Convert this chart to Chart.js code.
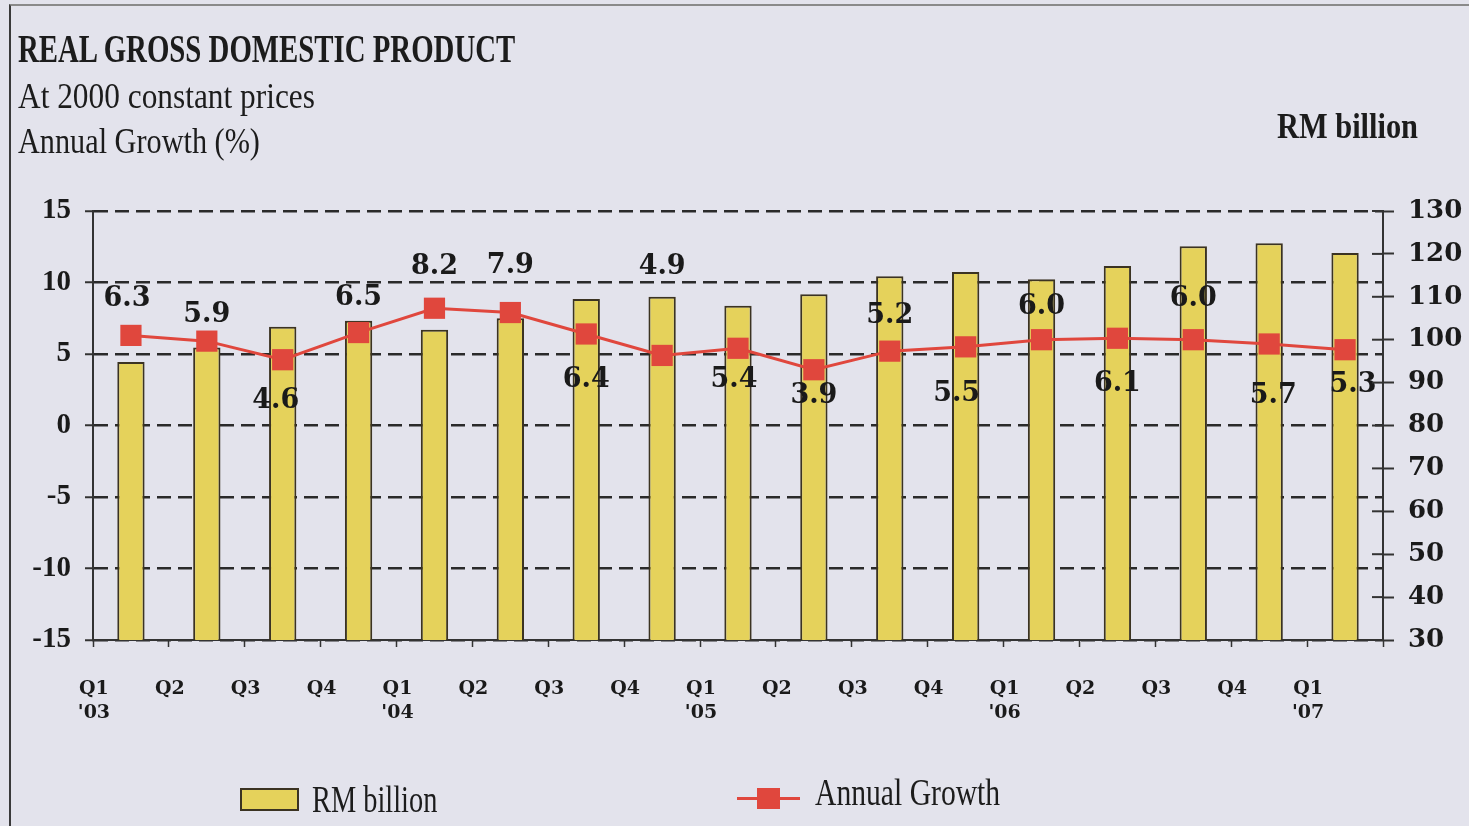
<!DOCTYPE html>
<html>
<head>
<meta charset="utf-8">
<script src="https://cdn.jsdelivr.net/npm/chart.js@4"></script>
<style>
  html, body { margin: 0; padding: 0; }
  body { width: 1469px; height: 826px; background: #e3e3ec; position: relative; overflow: hidden; }
  #frame { position: absolute; left: 9px; top: 4px; width: 1480px; height: 900px; border-left: 2px solid #3a3a3a; border-top: 2px solid #8a8a8a; }
  canvas { position: absolute; left: 0; top: 0; }
  .txt { position: absolute; white-space: nowrap; line-height: 1; color: #1c1c1c; transform-origin: 0 0; font-family: "Liberation Serif", serif; }
  .b { font-weight: bold; }
  .key { position: absolute; }
</style>
</head>
<body>
<div id="frame"></div>
<canvas id="chart" width="1469" height="826"></canvas>

<div class="txt b" id="t1" style="left:18px; top:28px; font-size:41px;" data-w="497">REAL GROSS DOMESTIC PRODUCT</div>
<div class="txt" id="t2" style="left:18px; top:78px; font-size:36px;" data-w="297">At 2000 constant prices</div>
<div class="txt" id="t3" style="left:18px; top:123px; font-size:36px;" data-w="242">Annual Growth (%)</div>
<div class="txt b" id="t4" style="left:1277px; top:108px; font-size:36px;" data-w="141">RM billion</div>

<div class="key" style="left:240px; top:788px; width:55px; height:19px; background:#e5d25b; border:2px solid #3b3322;"></div>
<div class="txt" id="l1" style="left:312px; top:781px; font-size:37px;" data-w="125">RM billion</div>
<div class="key" style="left:737px; top:797px; width:63px; height:3px; background:#e0473d;"></div>
<div class="key" style="left:757px; top:788px; width:23px; height:21px; background:#e0473d;"></div>
<div class="txt" id="l2" style="left:815px; top:774px; font-size:37px;" data-w="185">Annual Growth</div>

<script>
const quarters = ["Q1", "Q2", "Q3", "Q4", "Q1", "Q2", "Q3", "Q4", "Q1", "Q2", "Q3", "Q4", "Q1", "Q2", "Q3", "Q4", "Q1"];
const years = ["'03", "", "", "", "'04", "", "", "", "'05", "", "", "", "'06", "", "", "", "'07"];
const gdpBillion = [94.8, 98.2, 103.0, 104.4, 102.3, 105.0, 109.5, 110.0, 107.9, 110.6, 114.8, 115.8, 114.1, 117.2, 121.8, 122.5, 120.2];
const annualGrowth = [6.3, 5.9, 4.6, 6.5, 8.2, 7.9, 6.4, 4.9, 5.4, 3.9, 5.2, 5.5, 6.0, 6.1, 6.0, 5.7, 5.3];

// where each value label sits relative to its marker (px)
const labelDy = [-36, -26, 41, -35, -41, -47, 46, -88, 32, 26, -35, 47, -33, 46, -41, 52, 35];
const labelDx = [-4, 0, -7, 0, 0, 0, 0, 0, -4, 0, 0, -9, 0, 0, 0, 4, 8];

const labels = quarters.map((q, i) => years[i] ? [q, years[i]] : q);

// fit the condensed-looking heading texts to their widths
document.querySelectorAll(".txt").forEach(el => {
  const w = +el.dataset.w;
  el.style.transform = `scaleX(${w / el.offsetWidth})`;
});

const valueLabels = {
  id: "valueLabels",
  afterDatasetsDraw(chart) {
    const ctx = chart.ctx;
    const meta = chart.getDatasetMeta(1);
    ctx.save();
    ctx.font = "bold 27px 'DejaVu Serif'";
    ctx.fillStyle = "#1a1a1a";
    ctx.textAlign = "center";
    ctx.textBaseline = "middle";
    meta.data.forEach((pt, i) => {
      ctx.fillText(annualGrowth[i].toFixed(1), pt.x + labelDx[i], pt.y + labelDy[i]);
    });
    ctx.restore();
  }
};

// right axis ticks cross the axis line
const innerTicks = {
  id: "innerTicks",
  afterDraw(chart) {
    const sc = chart.scales.y2;
    const ctx = chart.ctx;
    ctx.save();
    ctx.strokeStyle = "#333";
    ctx.lineWidth = 2;
    sc.ticks.forEach((t, i) => {
      const y = sc.getPixelForTick(i);
      ctx.beginPath();
      ctx.moveTo(sc.left - 11, y);
      ctx.lineTo(sc.left, y);
      ctx.stroke();
    });
    ctx.restore();
  }
};

new Chart(document.getElementById("chart"), {
  data: {
    labels: labels,
    datasets: [
      {
        type: "bar",
        label: "RM billion",
        data: gdpBillion,
        yAxisID: "y2",
        backgroundColor: "#e5d25b",
        borderColor: "#3b3322",
        borderWidth: 2,
        barPercentage: 0.36,
        categoryPercentage: 1,
        order: 2
      },
      {
        type: "line",
        label: "Annual Growth",
        data: annualGrowth,
        yAxisID: "y",
        borderColor: "#e0473d",
        borderWidth: 3,
        pointStyle: "rect",
        pointRadius: 15,
        pointBackgroundColor: "#e0473d",
        pointBorderWidth: 0,
        tension: 0,
        order: 1
      }
    ]
  },
  options: {
    responsive: false,
    animation: false,
    layout: { padding: { top: 211, left: 0, right: 0, bottom: 0 } },
    plugins: {
      legend: { display: false },
      tooltip: { enabled: false },
      title: { display: false }
    },
    scales: {
      x: {
        offset: true,
        afterFit: (s) => { s.height = 186; },
        grid: { drawOnChartArea: false, offset: true, tickLength: 7, tickColor: "#333", tickWidth: 1.5 },
        border: { display: true, color: "#333", width: 2 },
        ticks: {
          maxRotation: 0,
          autoSkip: false,
          labelOffset: -37,
          padding: 30,
          color: "#1a1a1a",
          font: { family: "DejaVu Serif", weight: "bold", size: 19, lineHeight: 1.25 }
        }
      },
      y: {
        position: "left",
        min: -15,
        max: 15,
        afterFit: (s) => { s.width = 93; },
        ticks: {
          stepSize: 5,
          padding: 14,
          color: "#1a1a1a",
          font: { family: "Liberation Serif", weight: "bold", size: 29 }
        },
        grid: { color: "#2a2a2a", lineWidth: 2.5, tickLength: 8, tickColor: "#333", tickWidth: 2 },
        border: { display: true, color: "#333", width: 2, dash: [14, 7] }
      },
      y2: {
        position: "right",
        min: 30,
        max: 130,
        afterFit: (s) => { s.width = 86; },
        ticks: {
          stepSize: 10,
          padding: 14,
          color: "#1a1a1a",
          font: { family: "DejaVu Serif", weight: "bold", size: 26 }
        },
        grid: { drawOnChartArea: false, tickLength: 11, tickColor: "#333", tickWidth: 2 },
        border: { display: true, color: "#333", width: 2 }
      }
    }
  },
  plugins: [valueLabels, innerTicks]
});
</script>
</body>
</html>
